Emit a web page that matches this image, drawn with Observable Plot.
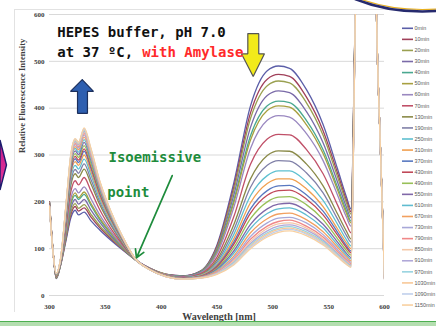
<!DOCTYPE html>
<html><head><meta charset="utf-8">
<script src="https://cdn.jsdelivr.net/npm/d3@7"></script>
<script src="https://cdn.jsdelivr.net/npm/@observablehq/plot@0.6"></script>
<style>
html,body{margin:0;padding:0;background:#fff;overflow:hidden;}
#wrap{position:relative;width:436px;height:326px;overflow:hidden;background:#fff;}
#wrap svg{position:absolute;left:0;top:0;}
</style></head><body><div id="wrap"></div>
<script>
// ---- data ----
const wavelengths = [300,303,306,310,315,319,323,326,331,337,345,355,365,377,390,405,420,435,450,465,480,495,505,515,530,545,558,566,570,575,591,593,596,600];
const timeLabels = ["0min","10min","20min","30min","40min","50min","60min","70min","130min","190min","250min","310min","370min","430min","490min","550min","610min","670min","730min","790min","850min","910min","970min","1030min","1090min","1150min"];
const seriesColors = ["#5b5ea8","#a0405a","#9aa050","#7a6aa8","#4aa890","#a8a040","#9a88c0","#c05068","#8a8a48","#8080a8","#5ec0d0","#f0a050","#5878c0","#c04858","#98c058","#8068a8","#60bcd0","#f2a060","#a8a8d8","#f08888","#f4c8a8","#b0a8d8","#98d4e0","#f8c898","#c0d0ec","#f8d0a0"];
const s0min = [200,100,36,65,120,165,182,172,178,160,140,118,98,76,58,45,42,52,108,240,405,480,490,485,440,365,270,210,185,700,900,580,340,50];
const s10min = [200,100,37,66,124,172,190,180,187,168,145,121,100,76,58,45,42,51,105,231,390,462,472,468,424,352,261,203,179,700,900,580,340,49];
const s20min = [199,100,37,66,127,177,196,186,194,174,149,124,101,76,58,45,41,51,102,224,378,448,458,454,412,342,253,197,174,700,900,580,340,49];
const s30min = [198,99,38,67,132,185,205,195,205,183,156,127,103,76,58,44,41,50,99,214,359,427,437,433,393,326,242,188,166,700,900,580,340,48];
const s40min = [198,99,39,68,137,193,214,205,216,193,162,131,104,76,57,44,41,49,95,203,341,405,415,412,374,311,231,180,159,700,900,580,340,47];
const s50min = [198,99,39,69,139,197,219,209,221,197,165,133,105,76,57,44,40,48,93,198,332,395,405,402,365,303,225,175,155,700,900,580,340,46];
const s60min = [197,99,40,70,144,206,228,219,232,207,172,137,107,77,57,44,40,48,89,188,314,374,384,381,346,288,214,167,148,700,900,580,340,46];
const s70min = [196,98,41,71,153,220,245,236,252,224,183,143,110,77,57,43,39,46,82,168,280,334,344,343,312,260,193,151,134,700,900,580,340,44];
const s130min = [195,97,42,73,161,234,260,252,270,239,194,150,113,77,56,42,38,44,76,151,249,299,309,308,281,234,174,137,121,700,900,580,340,42];
const s190min = [194,97,43,74,166,242,269,261,281,248,200,153,115,77,56,42,38,43,72,140,231,278,288,287,262,219,163,128,114,700,900,580,340,41];
const s250min = [194,97,44,74,170,250,278,270,291,258,206,157,117,77,56,42,38,43,68,130,213,256,266,266,243,203,152,119,106,700,900,580,340,41];
const s310min = [193,97,44,75,174,257,286,278,300,265,211,160,118,77,56,42,37,42,65,121,198,239,249,249,228,190,142,112,100,700,900,580,340,40];
const s370min = [193,96,45,76,178,262,292,284,308,272,216,163,120,77,56,41,37,41,63,114,185,224,234,235,215,180,135,106,95,700,900,580,340,39];
const s430min = [193,96,45,76,180,266,297,289,313,276,219,165,121,78,56,41,37,41,61,109,176,214,224,225,206,172,129,102,91,700,900,580,340,39];
const s490min = [192,96,45,77,183,272,303,295,320,282,223,167,122,78,56,41,36,40,58,102,164,200,210,211,194,162,121,96,86,700,900,580,340,38];
const s550min = [192,96,46,77,186,277,309,301,327,289,227,169,123,78,56,41,36,40,56,95,152,185,195,197,181,152,114,90,81,700,900,580,340,38];
const s610min = [191,96,46,78,189,281,314,306,333,293,230,171,124,78,55,41,36,39,54,90,143,175,185,187,172,144,108,86,78,700,900,580,340,37];
const s670min = [191,96,47,78,191,285,318,311,338,298,233,173,125,78,55,41,36,39,52,84,134,164,174,176,162,136,103,82,74,700,900,580,340,37];
const s730min = [191,95,47,79,193,289,322,315,343,302,236,175,125,78,55,40,36,38,50,80,126,155,165,167,155,130,98,78,71,700,900,580,340,36];
const s790min = [191,95,47,79,195,291,325,318,346,305,238,176,126,78,55,40,35,38,49,76,120,148,158,161,148,125,94,75,68,700,900,580,340,36];
const s850min = [191,95,47,79,196,293,327,320,349,307,240,177,127,78,55,40,35,38,48,74,115,143,153,155,144,121,91,73,66,700,900,580,340,36];
const s910min = [190,95,48,79,197,295,329,322,351,309,241,178,127,78,55,40,35,38,47,71,111,138,148,151,140,118,89,71,65,700,900,580,340,36];
const s970min = [190,95,48,80,198,296,331,324,353,311,242,178,127,78,55,40,35,37,47,70,108,134,144,147,136,115,87,70,63,700,900,580,340,35];
const s1030min = [190,95,48,80,199,298,332,325,355,312,243,179,127,78,55,40,35,37,46,68,105,131,141,144,133,112,85,68,62,700,900,580,340,35];
const s1090min = [190,95,48,80,199,299,334,327,356,314,244,179,128,78,55,40,35,37,46,67,103,128,138,141,131,110,84,67,61,700,900,580,340,35];
const s1150min = [190,95,48,80,200,300,335,328,358,315,245,180,128,78,55,40,35,37,45,65,100,125,135,138,128,108,82,66,60,700,900,580,340,35];
const allSeries = [s0min,s10min,s20min,s30min,s40min,s50min,s60min,s70min,s130min,s190min,s250min,s310min,s370min,s430min,s490min,s550min,s610min,s670min,s730min,s790min,s850min,s910min,s970min,s1030min,s1090min,s1150min];
const xTicks = [300,350,400,450,500,550,600];
const yTicks = [0,100,200,300,400,500,600];
// annotations (data coordinates: wavelength, intensity)
const blueArrow = [[329.3,461],[339.4,436],[334.0,436],[334.0,389],[325.1,389],[325.1,436],[318.8,436],[329.3,461]];
const yellowArrow = [[477.6,559],[487.4,559],[487.4,516],[492.5,516],[482.4,467.6],[471.9,516],[477.6,516],[477.6,559]];
const greenArrow = [{x1:409.9,y1:256,x2:377.9,y2:80.5}];
const notes = [
  {x:306.9, y:551.6, text:"HEPES buffer, pH 7.0", color:"#111"},
  {x:306.9, y:510.3, text:"at 37 ºC,", color:"#111"},
  {x:383.0, y:510.3, text:"with Amylase", color:"#ff2a2a"},
  {x:352.8, y:284, text:"Isoemissive", color:"#1e8c3c"},
  {x:351.7, y:210, text:"point", color:"#1e8c3c"}
];

const rows = allSeries.flatMap((vals, k) => vals.map((v, j) => ({wl: wavelengths[j], value: v, series: timeLabels[k]})));

const mono = "'DejaVu Sans Mono', 'Liberation Mono', monospace";
const serif = "'Liberation Serif', 'DejaVu Serif', serif";

const chart = Plot.plot({
  width: 436, height: 326,
  marginLeft: 49, marginRight: 52, marginTop: 14, marginBottom: 31,
  style: {background: "transparent", overflow: "visible"},
  x: {domain: [300, 600]},
  y: {domain: [0, 600]},
  color: {domain: timeLabels, range: seriesColors},
  marks: [
    Plot.gridY(yTicks, {stroke: "#d9d9d9", strokeOpacity: 1, strokeWidth: 1}),
    Plot.line(rows, {x: "wl", y: "value", z: "series", stroke: "series", strokeWidth: 1.3, curve: "monotone-x", clip: true}),
    Plot.axisX(xTicks, {tickSize: 0, tickPadding: 9, fontSize: 7, fontWeight: "bold", fontFamily: serif, color: "#404040", label: null}),
    Plot.axisY(yTicks, {tickSize: 0, tickPadding: 5, fontSize: 7, fontWeight: "bold", fontFamily: serif, color: "#404040", label: null}),
    Plot.text(["Relative Fluorescence Intensity"], {frameAnchor: "left", dx: -27, dy: -2, rotate: -90, fontSize: 8.6, fontWeight: "bold", fontFamily: serif, fill: "#404040"}),
    Plot.text(["Wavelength [nm]"], {frameAnchor: "bottom", dx: 2, dy: 24, fontSize: 10, fontWeight: "bold", fontFamily: serif, fill: "#404040"}),
    Plot.line(blueArrow, {x: d => d[0], y: d => d[1], fill: "#2e5fb0", stroke: "#1c2f5c", strokeWidth: 1.2, curve: "linear", strokeLinejoin: "miter"}),
    Plot.line(yellowArrow, {x: d => d[0], y: d => d[1], fill: "#f2ea1a", stroke: "#555", strokeWidth: 1.2, curve: "linear", strokeLinejoin: "miter"}),
    Plot.arrow(greenArrow, {x1: "x1", y1: "y1", x2: "x2", y2: "y2", stroke: "#1e8c3c", strokeWidth: 1.7, headLength: 8}),
    Plot.text(notes, {x: "x", y: "y", text: "text", fill: d => d.color, textAnchor: "start", lineAnchor: "bottom", fontSize: 14, fontWeight: "bold", fontFamily: mono})
  ]
});

const wrap = document.getElementById("wrap");
// background decorations
const deco = d3.create("svg").attr("width", 436).attr("height", 326);
deco.append("line").attr("x1", 14.5).attr("x2", 14.5).attr("y1", 9).attr("y2", 312).attr("stroke", "#e2e2e2");
deco.append("line").attr("x1", 14.5).attr("x2", 436).attr("y1", 9.5).attr("y2", 9.5).attr("stroke", "#e2e2e2");
wrap.append(deco.node());
wrap.append(chart);

// legend + foreground decorations
const fg = d3.create("svg").attr("width", 436).attr("height", 326);
timeLabels.forEach((lab, i) => {
  const y = 28.3 + i * 11.07;
  fg.append("line").attr("x1", 402).attr("x2", 413).attr("y1", y).attr("y2", y)
    .attr("stroke", seriesColors[i]).attr("stroke-width", 1.6);
  fg.append("text").attr("x", 414.5).attr("y", y).attr("dy", "0.32em")
    .attr("font-size", 5.4).attr("font-family", "'Liberation Sans', Arial, sans-serif")
    .attr("fill", "#595959").text(lab);
});
const defs = fg.append("defs");
const g = defs.append("linearGradient").attr("id", "hex").attr("x1", 0).attr("x2", 0).attr("y1", 0).attr("y2", 1);
g.append("stop").attr("offset", 0).attr("stop-color", "#c2188a");
g.append("stop").attr("offset", 1).attr("stop-color", "#e83a9a");
fg.append("path").attr("d", "M0,140 L6.5,165 L0,190 Z").attr("fill", "url(#hex)").attr("stroke", "#1c1c6e").attr("stroke-width", 1.4);
fg.append("path").attr("d", "M355,-1 Q392,14 437,11").attr("fill", "none").attr("stroke", "#e8b020").attr("stroke-width", 1.2).attr("transform", "translate(0,-2)");
fg.append("path").attr("d", "M355,-1 Q392,14 437,11").attr("fill", "none").attr("stroke", "#262a6e").attr("stroke-width", 2.6);
fg.append("rect").attr("x", 0).attr("y", 321).attr("width", 436).attr("height", 5).attr("fill", "#b4deb0");
fg.append("line").attr("x1", 0).attr("x2", 436).attr("y1", 321.5).attr("y2", 321.5).attr("stroke", "#4caf50").attr("stroke-width", 1.2);
wrap.append(fg.node());
</script>
</body></html>
